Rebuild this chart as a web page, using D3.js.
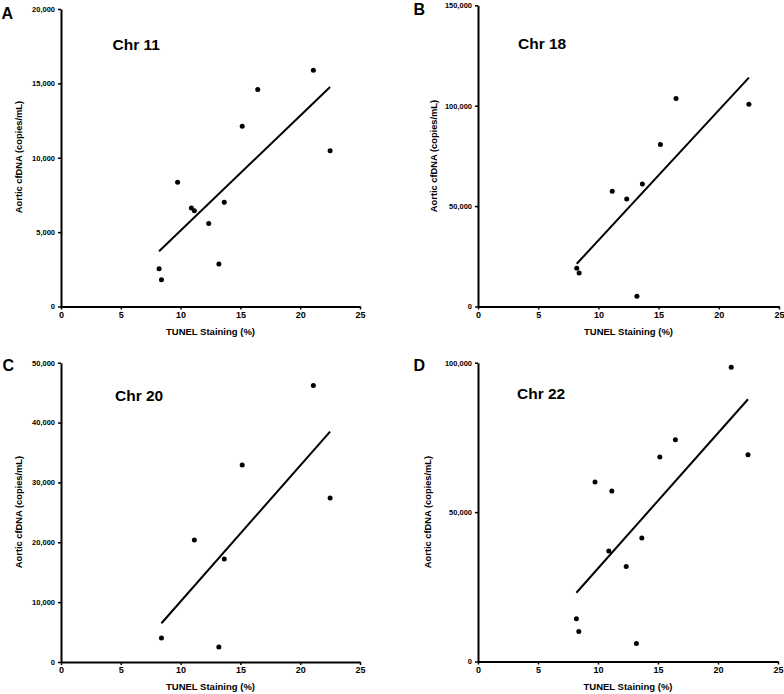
<!DOCTYPE html>
<html><head><meta charset="utf-8">
<script src="https://cdn.jsdelivr.net/npm/d3@7"></script>
<style>
body{margin:0;background:#fff;}
text{font-family:"Liberation Sans",Arial,sans-serif;font-weight:bold;fill:#000;}
</style></head>
<body>
<svg id="chart" width="784" height="694"></svg>
<script>
// Shared TUNEL staining values (%) for the 12 samples
const tunel = [8.2, 8.4, 9.75, 10.9, 11.15, 12.35, 13.2, 13.65, 15.15, 16.45, 21.1, 22.5];
// Aortic cfDNA (copies/mL) per chromosome; null = not measured
const chr11 = [2540, 1790, 8350, 6630, 6430, 5580, 2860, 7010, 12120, 14580, 15890, 10470];
const chr18 = [19060, 16740, null, null, 57340, 53530, 5140, 60990, 80710, 103580, null, 100760];
const chr20 = [null, 4010, null, null, 20380, null, 2510, 17200, 32900, null, 46210, 27390];
const chr22 = [14290, 10050, 60050, 36940, 57030, 31810, 6030, 41300, 68420, 74220, 98440, 69200];

const panelLetters = ["A", "B", "C", "D"];
const panelTitles = ["Chr 11", "Chr 18", "Chr 20", "Chr 22"];
const seriesList = [chr11, chr18, chr20, chr22];
const yMax = [20000, 150000, 50000, 100000];
const yStep = [5000, 50000, 10000, 50000];
const xTicks = [0, 5, 10, 15, 20, 25];
const xLabel = "TUNEL Staining (%)";
const yLabel = "Aortic cfDNA (copies/mL)";

// layout (pixels)
const layout = [
  {x0: 61,  x1: 360, y0: 306.5, y1: 9,   letter: [1.5, 18.5],  title: [112.5, 49.5], xt: [210.5, 335], yt: [21.5, 157]},
  {x0: 478, x1: 779, y0: 306.5, y1: 5.3, letter: [413.5, 14.5], title: [518, 49],    xt: [628.5, 335], yt: [437, 156]},
  {x0: 61,  x1: 360, y0: 662,   y1: 362.7, letter: [2.5, 371], title: [115, 400.5],  xt: [210.5, 690], yt: [21.5, 512]},
  {x0: 478, x1: 778, y0: 661.5, y1: 362.7, letter: [413.5, 370.5], title: [517, 399], xt: [628, 690], yt: [430.5, 512]}
];

const svg = d3.select("#chart");

seriesList.forEach((ys, i) => {
  const L = layout[i];
  const x = d3.scaleLinear().domain([0, 25]).range([L.x0, L.x1]);
  const y = d3.scaleLinear().domain([0, yMax[i]]).range([L.y0, L.y1]);
  const g = svg.append("g");

  const pts = tunel.map((t, k) => ({x: t, y: ys[k]})).filter(d => d.y != null);

  // axes
  const yTicks = d3.range(0, yMax[i] + 1, yStep[i]);
  const ya = g.append("g").attr("transform", `translate(${L.x0},0)`)
    .call(d3.axisLeft(y).tickValues(yTicks).tickFormat(d3.format(",")).tickSize(3).tickSizeOuter(0).tickPadding(3));
  ya.selectAll("text").style("font-size", "7.5px");
  const xa = g.append("g").attr("transform", `translate(0,${L.y0})`)
    .call(d3.axisBottom(x).tickValues(xTicks).tickSize(3).tickSizeOuter(0).tickPadding(2));
  xa.selectAll("text").style("font-size", "9px");
  g.selectAll(".domain").attr("stroke-width", 2).attr("stroke", "#000");
  g.selectAll(".tick line").attr("stroke-width", 1.5).attr("stroke", "#000");
  g.selectAll(".tick text").attr("fill", "#000").style("font-family", "'Liberation Sans',Arial,sans-serif").style("font-weight", "bold");

  // regression line
  const mx = d3.mean(pts, d => d.x), my = d3.mean(pts, d => d.y);
  const slope = d3.sum(pts, d => (d.x - mx) * (d.y - my)) / d3.sum(pts, d => (d.x - mx) ** 2);
  const xe = d3.extent(pts, d => d.x);
  const fit = xe.map(v => ({x: v, y: my + slope * (v - mx)}));
  g.append("path").datum(fit)
    .attr("d", d3.line().x(d => x(d.x)).y(d => y(d.y)))
    .attr("stroke", "#000").attr("stroke-width", 2).attr("fill", "none");

  // points
  g.selectAll("circle.pt").data(pts).enter().append("circle")
    .attr("class", "pt").attr("cx", d => x(d.x)).attr("cy", d => y(d.y)).attr("r", 2.5).attr("fill", "#000");

  // labels
  g.append("text").attr("x", L.letter[0]).attr("y", L.letter[1]).style("font-size", "16px").text(panelLetters[i]);
  g.append("text").attr("x", L.title[0]).attr("y", L.title[1]).style("font-size", "15.5px").text(panelTitles[i]);
  g.append("text").attr("x", L.xt[0]).attr("y", L.xt[1]).attr("text-anchor", "middle").style("font-size", "9.5px").text(xLabel);
  g.append("text").attr("transform", `translate(${L.yt[0]},${L.yt[1]}) rotate(-90)`).attr("text-anchor", "middle").style("font-size", "9.3px").text(yLabel);
});
</script>
</body></html>
